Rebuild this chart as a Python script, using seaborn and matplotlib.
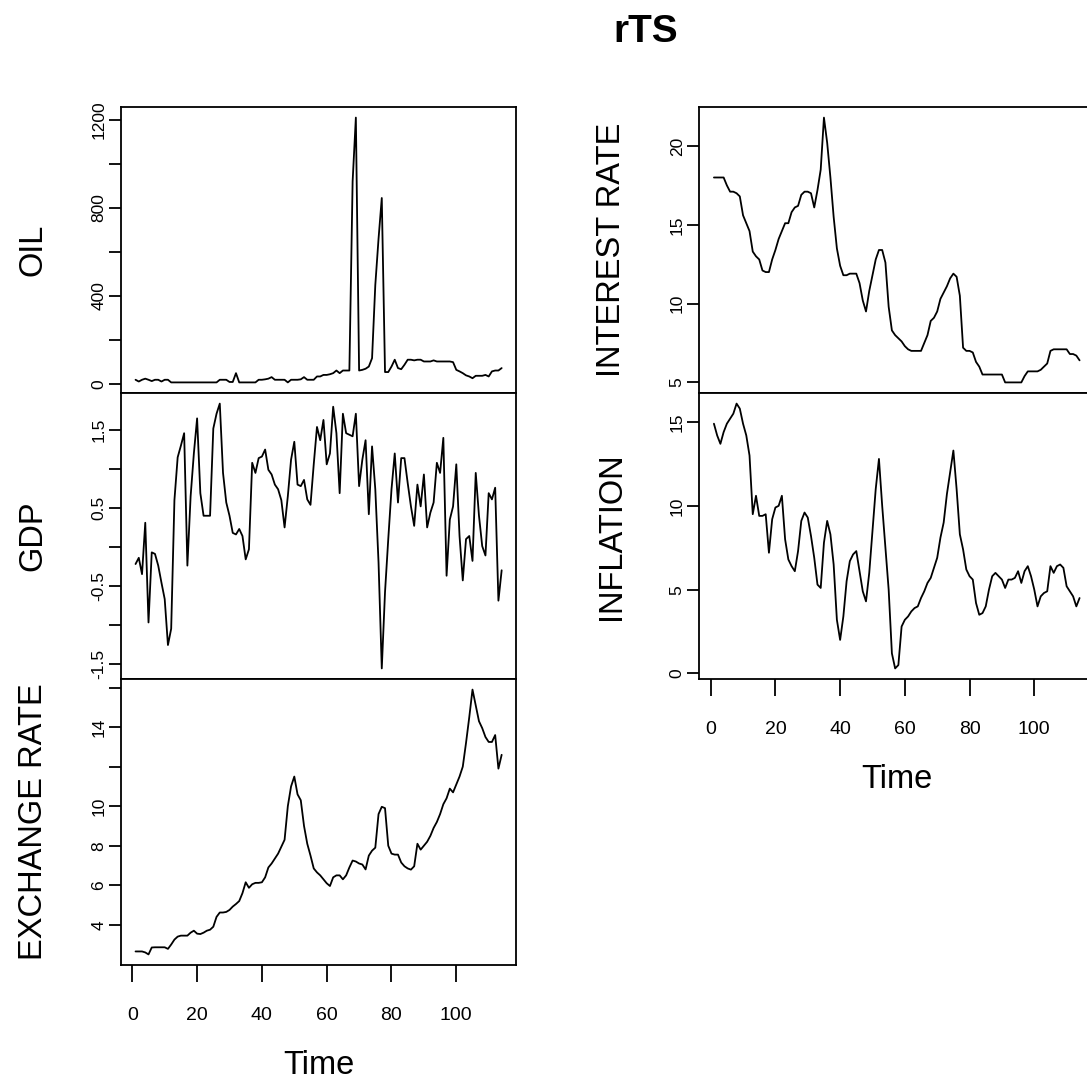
import matplotlib
matplotlib.use("Agg")
import matplotlib.pyplot as plt
import pandas as pd
import seaborn as sns

# ---------------- data ----------------
time = list(range(1, 115))

oil = [20, 12, 20, 25, 20, 14, 20, 20, 12, 20, 20, 8, 8, 8, 8, 8, 8, 8, 8, 8,
       8, 8, 8, 8, 8, 8, 20, 20, 20, 10, 10, 50, 8, 8, 8, 8, 8, 8, 20, 20,
       22, 25, 32, 20, 20, 20, 20, 8, 20, 20, 20, 22, 32, 20, 20, 20, 35, 35, 42, 42,
       45, 50, 62, 50, 62, 62, 62, 920, 1210, 62, 65, 70, 80, 118, 450, 660, 845, 55, 55, 80,
       111, 73, 68, 88, 111, 111, 108, 111, 111, 103, 103, 103, 108, 103, 103, 103, 103, 103, 100, 65,
       58, 50, 40, 35, 27, 38, 38, 38, 42, 35, 58, 62, 62, 73]

gdp = [-0.22, -0.14, -0.35, 0.31, -0.97, -0.07, -0.09, -0.24, -0.46, -0.67,
       -1.26, -1.05, 0.6, 1.15, 1.3, 1.46, -0.24, 0.65, 1.2, 1.65,
       0.69, 0.4, 0.4, 0.4, 1.52, 1.71, 1.84, 0.95, 0.57, 0.4,
       0.18, 0.16, 0.23, 0.14, -0.16, -0.03, 1.08, 0.95, 1.14, 1.16,
       1.25, 0.99, 0.93, 0.8, 0.74, 0.6, 0.25, 0.65, 1.12, 1.35,
       0.8, 0.78, 0.86, 0.61, 0.54, 1.06, 1.54, 1.37, 1.63, 1.06,
       1.2, 1.8, 1.46, 0.69, 1.71, 1.46, 1.44, 1.42, 1.71, 0.78,
       1.12, 1.37, 0.42, 1.29, 0.74, -0.2, -1.56, -0.58, 0.1, 0.74,
       1.2, 0.57, 1.14, 1.14, 0.82, 0.52, 0.27, 0.8, 0.52, 0.93,
       0.25, 0.44, 0.57, 1.08, 0.95, 1.4, -0.37, 0.35, 0.52, 1.06,
       0.14, -0.43, 0.1, 0.14, -0.18, 0.95, 0.4, 0.01, -0.11, 0.69,
       0.61, 0.76, -0.69, -0.3]

exchange = [2.65, 2.65, 2.65, 2.6, 2.5, 2.85, 2.86, 2.86, 2.86, 2.86,
            2.78, 3.0, 3.25, 3.4, 3.45, 3.45, 3.45, 3.6, 3.7, 3.55,
            3.53, 3.6, 3.7, 3.75, 3.9, 4.4, 4.62, 4.62, 4.65, 4.75,
            4.92, 5.05, 5.2, 5.6, 6.15, 5.87, 6.05, 6.12, 6.12, 6.15,
            6.4, 6.9, 7.1, 7.35, 7.6, 7.95, 8.3, 10.0, 11.0, 11.5,
            10.6, 10.3, 9.0, 8.1, 7.5, 6.85, 6.65, 6.5, 6.3, 6.1,
            5.96, 6.4, 6.5, 6.5, 6.3, 6.5, 6.9, 7.25, 7.2, 7.1,
            7.05, 6.8, 7.5, 7.75, 7.9, 9.6, 9.97, 9.9, 8.0, 7.6,
            7.55, 7.55, 7.15, 6.96, 6.85, 6.79, 6.96, 8.1, 7.8, 8.0,
            8.2, 8.5, 8.9, 9.2, 9.6, 10.1, 10.4, 10.89, 10.7, 11.1,
            11.5, 12.0, 13.2, 14.5, 15.9, 15.1, 14.3, 13.95, 13.5, 13.25,
            13.25, 13.6, 11.9, 12.6]

interest = [18, 18, 18, 18, 17.5, 17.1, 17.1, 17, 16.8, 15.6,
            15.1, 14.6, 13.3, 13, 12.8, 12.1, 12, 12, 12.8, 13.4,
            14.1, 14.6, 15.1, 15.1, 15.8, 16.1, 16.2, 16.9, 17.1, 17.1,
            17, 16.1, 17.2, 18.5, 21.8, 20.2, 18.0, 15.5, 13.5, 12.4,
            11.8, 11.8, 11.9, 11.9, 11.9, 11.3, 10.2, 9.5, 10.8, 11.8,
            12.8, 13.4, 13.4, 12.6, 9.8, 8.3, 8.0, 7.8, 7.6, 7.3,
            7.1, 7.0, 7.0, 7.0, 7.0, 7.5, 8.0, 8.9, 9.1, 9.5,
            10.3, 10.7, 11.1, 11.6, 11.9, 11.7, 10.5, 7.2, 7.0, 7.0,
            6.9, 6.3, 6.0, 5.5, 5.5, 5.5, 5.5, 5.5, 5.5, 5.5,
            5.0, 5.0, 5.0, 5.0, 5.0, 5.0, 5.4, 5.7, 5.7, 5.7,
            5.7, 5.8, 6.0, 6.2, 7.0, 7.1, 7.1, 7.1, 7.1, 7.1,
            6.8, 6.8, 6.7, 6.4]

inflation = [14.9, 14.2, 13.7, 14.4, 14.9, 15.2, 15.5, 16.1, 15.8, 14.9,
             14.2, 13.0, 9.5, 10.6, 9.4, 9.4, 9.5, 7.2, 9.2, 9.9,
             10.0, 10.6, 8.0, 6.8, 6.4, 6.1, 7.3, 9.1, 9.6, 9.3,
             8.2, 6.9, 5.3, 5.1, 7.8, 9.1, 8.3, 6.5, 3.2, 2.0,
             3.4, 5.5, 6.7, 7.1, 7.3, 6.1, 4.9, 4.3, 6.0, 8.5,
             11.0, 12.8, 10.0, 7.5, 5.0, 1.2, 0.3, 0.5, 2.8, 3.2,
             3.4, 3.7, 3.9, 4.0, 4.5, 4.9, 5.4, 5.7, 6.3, 6.9,
             8.1, 9.0, 10.7, 12.0, 13.3, 11.0, 8.3, 7.4, 6.2, 5.8,
             5.6, 4.2, 3.5, 3.6, 4.0, 5.0, 5.8, 6.0, 5.8, 5.6,
             5.1, 5.6, 5.6, 5.7, 6.1, 5.4, 6.1, 6.4, 5.8, 5.0,
             4.0, 4.6, 4.8, 4.9, 6.4, 6.0, 6.4, 6.5, 6.3, 5.2,
             4.9, 4.6, 4.0, 4.5]

series_names = ["OIL", "GDP", "EXCHANGE RATE", "INTEREST RATE", "INFLATION"]

oil_ticks = [0, 200, 400, 600, 800, 1000, 1200]
oil_labels = ["0", "", "400", "", "800", "", "1200"]
gdp_ticks = [-1.5, -1.0, -0.5, 0.0, 0.5, 1.0, 1.5]
gdp_labels = ["-1.5", "", "-0.5", "", "0.5", "", "1.5"]
exch_ticks = [4, 6, 8, 10, 12, 14, 16]
exch_labels = ["4", "6", "8", "10", "", "14", ""]
interest_ticks = [5, 10, 15, 20]
interest_labels = ["5", "10", "15", "20"]
inflation_ticks = [0, 5, 10, 15]
inflation_labels = ["0", "5", "10", "15"]
time_ticks = [0, 20, 40, 60, 80, 100]
time_labels = ["0", "20", "40", "60", "80", "100"]

df = pd.DataFrame({"Time": time, "OIL": oil, "GDP": gdp,
                   "EXCHANGE RATE": exchange, "INTEREST RATE": interest,
                   "INFLATION": inflation})

# ---------------- styling ----------------
sns.set_theme(style="white")
plt.rcParams["font.family"] = ["Liberation Sans", "DejaVu Sans"]

W, H = 1087, 1082
fig = plt.figure(figsize=(W / 100, H / 100), dpi=100)


def rect(x0, x1, y0, y1):
    return [x0 / W, 1 - y1 / H, (x1 - x0) / W, (y1 - y0) / H]


LX0, LX1 = 120.9, 516.3
RX0, RX1 = 699.3, 1094.2
rows = [107, 393, 679, 965]

panels = [
    ("OIL", rect(LX0, LX1, rows[0], rows[1]), oil_ticks, oil_labels, False),
    ("GDP", rect(LX0, LX1, rows[1], rows[2]), gdp_ticks, gdp_labels, False),
    ("EXCHANGE RATE", rect(LX0, LX1, rows[2], rows[3]), exch_ticks, exch_labels, True),
    ("INTEREST RATE", rect(RX0, RX1, rows[0], rows[1]), interest_ticks, interest_labels, False),
    ("INFLATION", rect(RX0, RX1, rows[1], rows[2]), inflation_ticks, inflation_labels, True),
]

n = len(time)
xpad = 0.04 * (n - 1)

for name, r, yt, yl, bottom in panels:
    ax = fig.add_axes(r)
    sns.lineplot(data=df, x="Time", y=name, ax=ax, color="black",
                 linewidth=1.3, estimator=None)
    vals = df[name]
    lo, hi = vals.min(), vals.max()
    pad = 0.04 * (hi - lo)
    ax.set_ylim(lo - pad, hi + pad)
    ax.set_xlim(time[0] - xpad, time[-1] + xpad)
    for s in ax.spines.values():
        s.set_visible(True)
        s.set_color("black")
        s.set_linewidth(1.3)
    ax.set_yticks(yt)
    ax.set_yticklabels(yl, rotation=90, va="center", fontsize=12.5)
    ax.tick_params(axis="y", direction="out", length=9, width=1.3,
                   color="black", pad=1.5, left=True, labelcolor="black")
    ax.set_ylabel(name, fontsize=23.5, color="black", va="center")
    ax.yaxis.set_label_coords(-0.222, 0.5)
    if bottom:
        ax.set_xticks(time_ticks)
        ax.set_xticklabels(time_labels, fontsize=14)
        ax.tick_params(axis="x", direction="out", length=12, width=1.3,
                       color="black", pad=18, bottom=True, labelcolor="black")
        ax.set_xlabel("Time", fontsize=23.5, color="black", va="center")
        ax.xaxis.set_label_coords(0.5, -0.35)
    else:
        ax.set_xticks([])
        ax.set_xlabel("")
        ax.tick_params(axis="x", bottom=False, labelbottom=False)
    ax.grid(False)

fig.text(646 / W, 1 - 32 / H, "rTS", ha="center", va="center",
         fontsize=28, fontweight="bold", color="black")

fig.savefig("out.png", dpi=100, facecolor="white")
